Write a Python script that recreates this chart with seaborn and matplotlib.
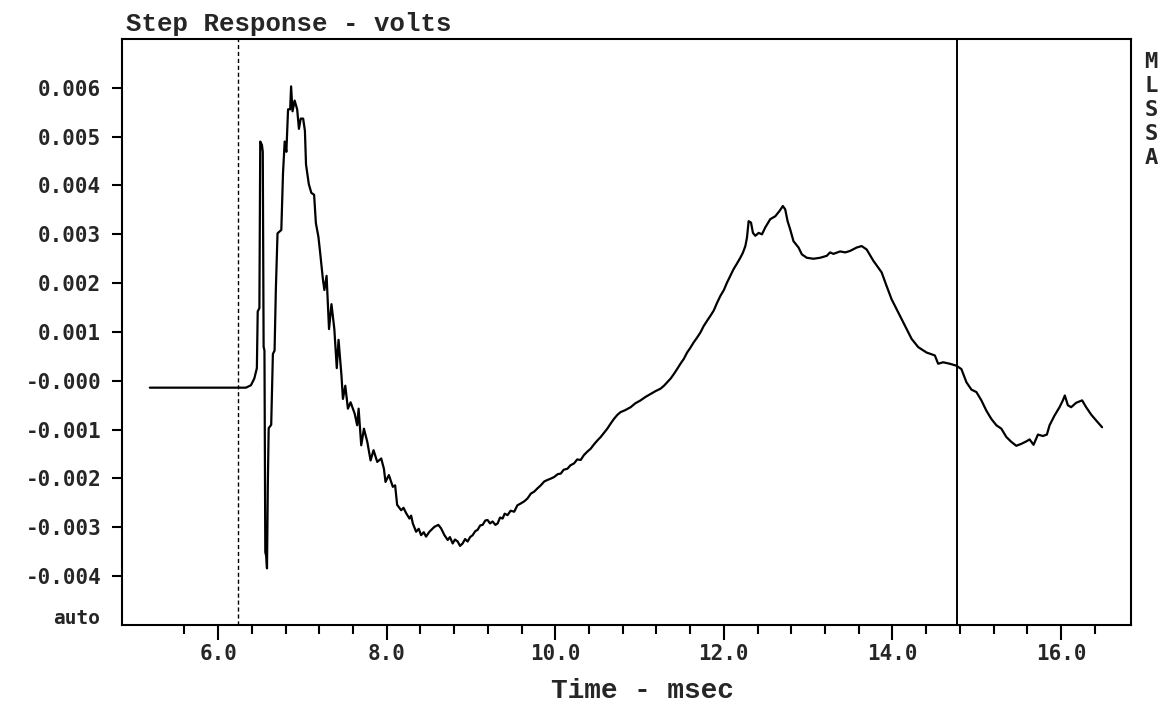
import numpy as np
import pandas as pd
import matplotlib
matplotlib.use("Agg")
import matplotlib.pyplot as plt
import seaborn as sns

# values (time in msec, response in millivolts)
time_ms = [
    5.19, 5.60, 6.00, 6.33, 6.39, 6.43, 6.46, 6.47, 6.49, 6.50, 6.52, 6.53, 6.54, 6.55,
    6.56, 6.57, 6.58, 6.59, 6.60, 6.63, 6.65, 6.67, 6.685, 6.705, 6.75, 6.77, 6.79, 6.81,
    6.83, 6.855, 6.866, 6.883, 6.908, 6.938, 6.959, 6.98, 7.009, 7.03, 7.043, 7.076, 7.106,
    7.139, 7.16, 7.19, 7.211, 7.244, 7.261, 7.287, 7.316, 7.345, 7.379, 7.408, 7.429, 7.463,
    7.481, 7.509, 7.54, 7.572, 7.62, 7.65, 7.667, 7.698, 7.73, 7.77, 7.809, 7.844, 7.888,
    7.935, 7.967, 7.986, 8.026, 8.073, 8.10, 8.124, 8.172, 8.20, 8.231, 8.27, 8.29, 8.31,
    8.349, 8.38, 8.408, 8.44, 8.467, 8.507, 8.566, 8.613, 8.645, 8.685, 8.724, 8.75, 8.783,
    8.81, 8.842, 8.87, 8.901, 8.93, 8.96, 8.99, 9.02, 9.05, 9.079, 9.11, 9.138, 9.17, 9.197,
    9.226, 9.256, 9.29, 9.316, 9.345, 9.375, 9.40, 9.434, 9.47, 9.513, 9.55, 9.592, 9.63,
    9.67, 9.71, 9.749, 9.79, 9.828, 9.87, 9.907, 9.95, 9.986, 10.03, 10.065, 10.10, 10.144,
    10.18, 10.223, 10.26, 10.302, 10.34, 10.38, 10.42, 10.46, 10.50, 10.539, 10.58, 10.617,
    10.655, 10.696, 10.735, 10.775, 10.83, 10.894, 10.95, 11.012, 11.07, 11.13, 11.19,
    11.249, 11.29, 11.328, 11.37, 11.407, 11.445, 11.485, 11.525, 11.564, 11.60, 11.643,
    11.68, 11.722, 11.76, 11.801, 11.84, 11.88, 11.92, 11.959, 12.00, 12.037, 12.08, 12.116,
    12.155, 12.195, 12.225, 12.255, 12.274, 12.294, 12.322, 12.345, 12.373, 12.413, 12.452,
    12.491, 12.55, 12.61, 12.661, 12.70, 12.728, 12.756, 12.787, 12.826, 12.886, 12.925,
    12.984, 13.063, 13.142, 13.221, 13.26, 13.30, 13.379, 13.44, 13.497, 13.576, 13.635,
    13.694, 13.773, 13.872, 13.931, 13.99, 14.069, 14.148, 14.227, 14.306, 14.404, 14.503,
    14.542, 14.601, 14.68, 14.759, 14.818, 14.878, 14.937, 14.996, 15.055, 15.114, 15.173,
    15.233, 15.292, 15.351, 15.41, 15.469, 15.529, 15.588, 15.627, 15.674, 15.726, 15.785,
    15.832, 15.864, 15.923, 15.982, 16.022, 16.045, 16.081, 16.12, 16.179, 16.25, 16.298,
    16.357, 16.416, 16.487,
]
response_mv = [
    -0.14, -0.14, -0.14, -0.14, -0.09, 0.05, 0.26, 1.42, 1.49, 4.90, 4.83, 4.69, 0.70, 0.62,
    -3.51, -3.58, -3.84, -2.13, -0.97, -0.90, 0.55, 0.62, 1.86, 3.02, 3.09, 4.25, 4.90, 4.69,
    5.56, 5.56, 6.03, 5.52, 5.74, 5.56, 5.16, 5.37, 5.37, 5.12, 4.43, 4.03, 3.85,
    3.81, 3.23, 2.95, 2.62, 2.07, 1.86, 2.15, 1.06, 1.57, 1.06, 0.26, 0.84, 0.12,
    -0.37, -0.10, -0.57, -0.44, -0.67, -0.91, -0.57, -1.32, -0.98, -1.25, -1.63, -1.42, -1.66,
    -1.59, -1.80, -2.07, -1.93, -2.17, -2.14, -2.54, -2.65, -2.60, -2.71, -2.82, -2.76, -2.92,
    -3.09, -3.03, -3.16, -3.10, -3.19, -3.09, -2.99, -2.95, -3.02, -3.16, -3.26, -3.20, -3.33,
    -3.25, -3.29, -3.38, -3.33, -3.24, -3.29, -3.20, -3.16, -3.08, -3.05, -2.96, -2.95, -2.86, -2.85,
    -2.92, -2.88, -2.95, -2.92, -2.80, -2.82, -2.72, -2.75, -2.66, -2.68, -2.55, -2.51, -2.47,
    -2.41, -2.31, -2.27, -2.20, -2.14, -2.06, -2.03, -2.00, -1.97, -1.91, -1.90, -1.82, -1.80,
    -1.73, -1.69, -1.61, -1.62, -1.52, -1.45, -1.39, -1.30, -1.22, -1.15, -1.06, -0.98,
    -0.88, -0.78, -0.70, -0.64, -0.60, -0.54, -0.46, -0.40, -0.33, -0.27, -0.21,
    -0.16, -0.10, -0.03, 0.05, 0.14, 0.24, 0.35, 0.45, 0.58, 0.67, 0.79,
    0.88, 0.99, 1.12, 1.23, 1.33, 1.44, 1.60, 1.74, 1.86, 2.01, 2.16, 2.29,
    2.40, 2.52, 2.62, 2.76, 2.93, 3.27, 3.24, 3.03, 2.97, 3.03, 3.00,
    3.14, 3.31, 3.37, 3.48, 3.58, 3.51, 3.27, 3.10, 2.86, 2.73, 2.59,
    2.52, 2.50, 2.52, 2.56, 2.63, 2.60, 2.65, 2.63, 2.66, 2.73, 2.76,
    2.69, 2.46, 2.22, 1.94, 1.67, 1.40, 1.13, 0.86, 0.69, 0.58, 0.52,
    0.35, 0.38, 0.35, 0.31, 0.24, -0.03, -0.18, -0.23, -0.40, -0.61, -0.78,
    -0.91, -0.98, -1.15, -1.25, -1.33, -1.29, -1.24, -1.20, -1.31, -1.10, -1.13,
    -1.10, -0.91, -0.71, -0.54, -0.40, -0.30, -0.50, -0.54, -0.45, -0.40, -0.54,
    -0.69, -0.81, -0.95,
]

ytick_vals = [0.006, 0.005, 0.004, 0.003, 0.002, 0.001, 0.0, -0.001, -0.002, -0.003, -0.004]
ytick_labels = ["0.006", "0.005", "0.004", "0.003", "0.002", "0.001", "-0.000",
                "-0.001", "-0.002", "-0.003", "-0.004"]
xtick_major = [6.0, 8.0, 10.0, 12.0, 14.0, 16.0]
xtick_labels = ["6.0", "8.0", "10.0", "12.0", "14.0", "16.0"]
cursor_left = 6.24
cursor_right = 14.77
side_letters = ["M", "L", "S", "S", "A"]

df = pd.DataFrame({"time": time_ms, "volts": np.array(response_mv) / 1000.0})

sns.set_theme(style="white")
plt.rcParams['font.family'] = ['DejaVu Sans Mono']
plt.rcParams['font.weight'] = 'bold'

fig = plt.figure(figsize=(11.65, 7.09), dpi=100)
ax = fig.add_axes([122/1165, 1 - 625/709, (1131-122)/1165, (625-39)/709])

sns.lineplot(data=df, x="time", y="volts", ax=ax, color="black", linewidth=1.6,
             estimator=None, sort=False)

ax.axvline(cursor_left, color="black", linewidth=1.0, linestyle=(0, (3, 2)))
ax.axvline(cursor_right, color="black", linewidth=1.4)

ax.set_xlim(4.86, 16.83)
ax.set_ylim(-0.005, 0.007)

ax.set_xticks(xtick_major)
ax.set_xticklabels(xtick_labels)
ax.set_xticks(np.arange(5.6, 16.5, 0.4), minor=True)
ax.set_yticks(ytick_vals)
ax.set_yticklabels(ytick_labels)

ax.tick_params(axis="x", which="major", direction="out", length=11, width=1.5,
               pad=3, labelsize=15, color="black")
ax.tick_params(axis="x", which="minor", direction="out", length=6.5, width=1.5, color="black")
ax.tick_params(axis="y", direction="out", length=7, width=1.5, pad=8, labelsize=15,
               color="black")
ax.tick_params(which="both", bottom=True, left=True)
for lbl in ax.get_xticklabels() + ax.get_yticklabels():
    lbl.set_fontweight("bold")

for s in ax.spines.values():
    s.set_color("black")
    s.set_linewidth(1.5)

ax.set_xlabel("")
ax.set_ylabel("")

fig.text(126/1165, 1 - 31/709, "Step Response - volts", family="Liberation Mono",
         fontsize=18.5, fontweight="bold", ha="left", va="baseline")
fig.text(642/1165, 1 - 691/709, "Time - msec", family="Liberation Mono",
         fontsize=20, fontweight="bold", ha="center", va="center")
fig.text(100/1165, 1 - 619/709, "auto", fontsize=14, fontweight="bold",
         ha="right", va="center")
for i, ch in enumerate(side_letters):
    fig.text(1151/1165, 1 - (62 + 24 * i)/709, ch, fontsize=16, fontweight="bold",
             ha="center", va="center")

fig.savefig("out.png", dpi=100, facecolor="white")
